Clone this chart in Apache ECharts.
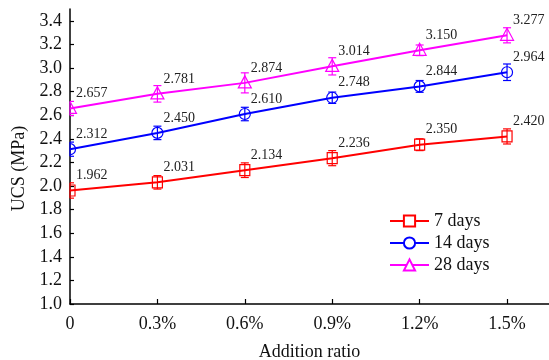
<!DOCTYPE html>
<html>
<head>
<meta charset="utf-8">
<script src="https://cdn.jsdelivr.net/npm/echarts@6/dist/echarts.min.js"></script>
<style>
  html, body { margin: 0; padding: 0; background: #fff; }
  #chart { width: 549px; height: 360px; }
</style>
</head>
<body>
<div id="chart"></div>
<script>
// Addition ratio (%) and their tick labels
const ratios = [0, 0.3, 0.6, 0.9, 1.2, 1.5];
const ratioLabels = ['0', '0.3%', '0.6%', '0.9%', '1.2%', '1.5%'];
const ucsTicks = [1.0, 1.2, 1.4, 1.6, 1.8, 2.0, 2.2, 2.4, 2.6, 2.8, 3.0, 3.2, 3.4];

// UCS (MPa) by curing age
const ucs7 = [1.962, 2.031, 2.134, 2.236, 2.350, 2.420];
const ucs14 = [2.312, 2.450, 2.610, 2.748, 2.844, 2.964];
const ucs28 = [2.657, 2.781, 2.874, 3.014, 3.150, 3.277];

// Standard deviations (MPa)
const err7 = [0.065, 0.057, 0.062, 0.064, 0.050, 0.064];
const err14 = [0.060, 0.057, 0.057, 0.048, 0.050, 0.070];
const err28 = [0.060, 0.070, 0.085, 0.073, 0.045, 0.064];

const FONT = 'Liberation Serif';

const groups = [
  { name: '7 days', values: ucs7, errs: err7, color: '#ff0000', symbol: 'rect' },
  { name: '14 days', values: ucs14, errs: err14, color: '#0000ff', symbol: 'circle' },
  { name: '28 days', values: ucs28, errs: err28, color: '#ff00ff', symbol: 'triangle' }
];

// Hollow marker; when the point sits on the left edge of the plot only
// the part inside the grid is drawn.
function marker(kind, x, y, color, left) {
  const st = { fill: 'none', stroke: color, lineWidth: 1.2 };
  const cut = x - left < 1;
  if (kind === 'rect') {
    if (cut) {
      return { type: 'polyline', shape: { points: [[left, y - 5.5], [x + 5, y - 5.5], [x + 5, y + 5.5], [left, y + 5.5]] }, style: st };
    }
    return { type: 'rect', shape: { x: x - 5, y: y - 5.5, width: 10, height: 11 }, style: st };
  } else if (kind === 'circle') {
    if (cut) {
      return { type: 'arc', shape: { cx: x, cy: y, r: 5.5, startAngle: -Math.PI / 2, endAngle: Math.PI / 2, clockwise: true }, style: st };
    }
    return { type: 'circle', shape: { cx: x, cy: y, r: 5.5 }, style: st };
  }
  if (cut) {
    return { type: 'polyline', shape: { points: [[x, y - 7], [x + 6.5, y + 5], [left, y + 5]] }, style: st };
  }
  return { type: 'polygon', shape: { points: [[x, y - 7], [x + 6.5, y + 5], [x - 6.5, y + 5]] }, style: st };
}

const series = [];
groups.forEach(function (g) {
  const pts = ratios.map(function (r, i) { return [r, g.values[i]]; });
  series.push({
    name: g.name,
    type: 'line',
    data: pts,
    symbol: g.symbol,
    symbolSize: 0,
    showSymbol: true,
    itemStyle: { color: '#ffffff', borderColor: g.color, borderWidth: 1.2 },
    lineStyle: { color: g.color, width: 2 },
    label: {
      show: true,
      position: 'top',
      align: 'left',
      verticalAlign: 'bottom',
      distance: 8,
      offset: [6, 0],
      fontFamily: FONT,
      fontSize: 14,
      color: '#222',
      formatter: function (p) { return p.value[1].toFixed(3); }
    },
    emphasis: { disabled: true },
    z: 2
  });
  // error bars and hollow markers
  series.push({
    type: 'custom',
    silent: true,
    data: ratios.map(function (r, i) { return [r, g.values[i], g.errs[i]]; }),
    encode: { x: 0, y: 1 },
    renderItem: function (params, api) {
      const left = params.coordSys.x;
      const x = api.value(0), y = api.value(1), e = api.value(2);
      const c = api.coord([x, y]);
      const hi = api.coord([x, y + e]);
      const lo = api.coord([x, y - e]);
      const w = 4;
      const x1 = Math.max(c[0] - w, left);
      const st = { stroke: g.color, lineWidth: 1.2 };
      return {
        type: 'group',
        children: [
          { type: 'line', shape: { x1: c[0], y1: hi[1], x2: c[0], y2: lo[1] }, style: st },
          { type: 'line', shape: { x1: x1, y1: hi[1], x2: c[0] + w, y2: hi[1] }, style: st },
          { type: 'line', shape: { x1: x1, y1: lo[1], x2: c[0] + w, y2: lo[1] }, style: st },
          marker(g.symbol, c[0], c[1], g.color, left)
        ]
      };
    },
    z: 3
  });
});

const chart = echarts.init(document.getElementById('chart'), null, { renderer: 'canvas' });
chart.setOption({
  animation: false,
  backgroundColor: '#ffffff',
  textStyle: { fontFamily: FONT },
  grid: { left: 70, right: 0, top: 9, bottom: 56, containLabel: false, outerBoundsMode: 'none' },
  legend: {
    orient: 'vertical',
    left: 389,
    top: 212,
    padding: 0,
    itemGap: 4,
    itemWidth: 39,
    itemHeight: 14,
    data: groups.map(function (g) { return g.name; }),
    textStyle: { fontFamily: FONT, fontSize: 18, color: '#111', padding: [2, 0, 0, 0] }
  },
  xAxis: {
    type: 'value',
    min: 0,
    max: 1.644,
    interval: 0.3,
    name: 'Addition ratio',
    nameLocation: 'middle',
    nameGap: 39,
    nameTextStyle: { fontFamily: FONT, fontSize: 18, color: '#111' },
    axisLine: { lineStyle: { color: '#000', width: 1.5 } },
    axisTick: { inside: true, length: 5, customValues: ratios, lineStyle: { color: '#000', width: 1.2 } },
    axisLabel: {
      customValues: ratios,
      fontFamily: FONT, fontSize: 18, color: '#111', margin: 11,
      formatter: function (v) {
        const i = ratios.findIndex(function (r) { return Math.abs(r - v) < 1e-6; });
        return i >= 0 ? ratioLabels[i] : '';
      }
    },
    splitLine: { show: false }
  },
  yAxis: {
    type: 'value',
    min: 1.0,
    max: 3.5,
    interval: 0.2,
    name: 'UCS (MPa)',
    nameLocation: 'middle',
    nameGap: 40,
    nameTextStyle: { fontFamily: FONT, fontSize: 18, color: '#111', padding: [0, 24, 0, 0] },
    axisLine: { show: true, lineStyle: { color: '#000', width: 1.5 } },
    axisTick: { show: true, inside: true, length: 4, customValues: ucsTicks, lineStyle: { color: '#000', width: 1.2 } },
    axisLabel: {
      customValues: ucsTicks,
      fontFamily: FONT, fontSize: 18, color: '#111', margin: 8,
      formatter: function (v) { return v.toFixed(1); }
    },
    splitLine: { show: false }
  },
  series: series
});
</script>
</body>
</html>
